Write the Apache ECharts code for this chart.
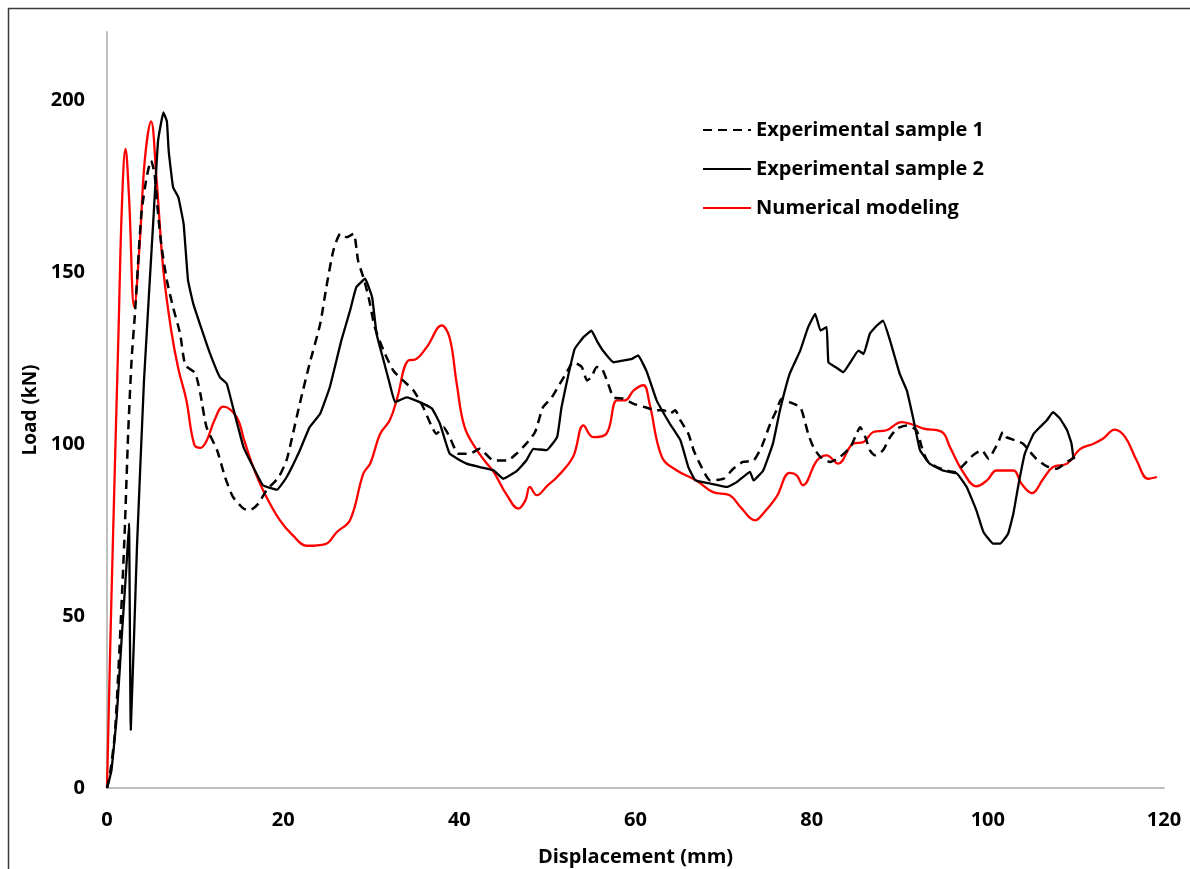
<!DOCTYPE html>
<html>
<head>
<meta charset="utf-8">
<script src="https://cdn.jsdelivr.net/npm/echarts@6/dist/echarts.min.js"></script>
<style>
html,body{margin:0;padding:0;background:#fff;}
#chart{width:1190px;height:869px;}
</style>
</head>
<body>
<div id="chart"></div>
<script>
// ---- Data ----
const seriesNames = ['Experimental sample 1', 'Experimental sample 2', 'Numerical modeling'];
const xTicks = [0, 20, 40, 60, 80, 100, 120];
const yTicks = [0, 50, 100, 150, 200];

const sample1X = [0,0.3,0.9,1.5,2.0,2.4,2.8,3.2,3.9,4.5,5.0,5.4,5.8,6.2,6.8,7.5,8.3,8.9,10.0,10.6,11.3,12.5,13.4,14.3,15.5,16.2,17.2,18.1,19.5,20.4,21.1,21.9,23.0,24.2,24.9,25.7,26.5,27.2,28.0,28.5,29.1,29.7,30.4,31.4,32.5,33.6,34.8,35.9,36.9,37.4,38.2,38.9,39.9,41.2,42.3,43.9,45.4,46.5,47.6,48.6,49.5,50.5,51.4,52.2,52.9,53.9,54.5,55.0,55.6,56.2,56.9,57.5,58.6,59.8,61.1,62.4,63.2,63.9,64.5,65.1,66.0,66.6,67.3,68.5,70.0,71.1,72.2,73.4,74.3,75.3,76.0,76.6,77.5,78.7,79.2,79.6,80.2,81.0,82.1,83.2,84.4,85.1,85.5,86.1,86.6,87.2,88.1,88.9,89.7,90.8,91.9,92.5,93.1,94.2,95.3,96.3,97.2,98.3,99.3,100.1,100.6,101.2,101.7,102.1,103.1,104.0,104.8,105.5,106.7,107.8,109.0,109.9];
const sample1Y = [0,3.3,15.9,45,74,103.1,125,139,167,177.7,182.6,178.7,167,157.4,147.7,139.9,132.2,123,120.8,114.7,105,98.3,90.5,84.7,81.3,80.8,82.8,86.6,90.5,95.5,103,112,123.5,135,145.7,156.4,161.3,160.3,161.3,153.5,148.6,142.8,134.1,127.3,121.5,118.6,115.7,110.8,105,103.1,105,102.1,97.3,97.3,98.7,95.3,95.3,97.3,100.2,103.6,110.8,113.7,117.6,121,123.9,122.5,118.6,119.6,122.5,122,117.6,113.7,113.3,111.8,110.8,109.9,109.9,108.9,109.9,107,103.1,98.3,94.4,89.5,90,92.9,94.9,95.3,99.2,106,109.9,113.3,112.3,110.8,107,103.1,99.2,96.3,94.9,96.3,99.2,103.1,105,102.1,98.3,96.8,98.3,102.1,104.6,105.5,104.1,99.2,95.3,93.4,92.4,91.9,93.9,96.8,98.3,95.8,97.8,100.7,103.6,102.1,101.2,100.2,97.8,95.8,93.6,92.9,94.9,96.3];

const sample2X = [0,0.5,1.1,1.7,2.2,2.5,2.7,3.4,4.2,5.3,5.8,6.4,6.8,7.0,7.5,8.1,8.7,9.2,9.8,10.8,11.7,12.8,13.6,14.3,15.5,16.6,17.7,19.3,20.4,21.9,23.0,24.2,25.3,26.6,27.6,28.3,29.3,30.1,30.6,31.4,32.1,32.7,34.0,35.5,36.9,37.8,38.9,40.8,42.3,43.9,45.0,46.5,47.6,48.4,49.9,51.1,51.6,52.4,53.1,54.1,55.0,55.6,56.3,57.5,58.6,59.6,60.3,61.3,62.4,63.9,65.1,66.0,66.8,68.5,70.4,71.5,73.0,73.4,74.5,75.6,76.4,77.5,78.7,79.6,80.4,81.0,81.7,81.9,82.7,83.6,84.4,85.3,85.9,86.6,87.4,88.1,88.9,90.0,90.8,91.5,92.3,93.4,94.9,96.5,97.6,98.7,99.5,100.6,101.4,102.3,102.9,103.5,104.2,105.2,105.9,106.7,107.4,108.2,109.0,109.5,109.7];
const sample2Y = [0,5,20.7,45,64.3,77,16.9,70,118.6,167,188.4,196.6,194,185.5,174.8,171.9,164.1,147.7,140.9,133.1,126.4,119.6,117.6,110.8,99.2,93.4,88.1,86.8,90.5,98.3,105,108.9,116.7,130.2,139,145.7,148.2,142.8,132.2,124.4,117.6,112.3,113.7,112.3,110.4,106,97.3,94.4,93.4,92.4,90,92.2,95.3,98.7,98.3,102.1,110.8,120.5,127.8,131.2,133.1,130.2,127.3,123.9,124.4,124.9,125.9,121,112.8,106,101.2,93.4,89.5,88.6,87.6,89,92,89.5,92.4,100.2,109.9,120.5,127.3,134.1,138,133.1,134.1,123.9,122.5,121,123.9,127.3,126.3,132.2,134.6,136,130.2,120.5,115.7,107.9,98.3,94.4,92.4,91.5,87.6,80.8,74.5,71.1,71.1,74,79.9,88.6,97.3,103.1,105,107,109.4,107.5,104.1,100.2,96.3];

const modelX = [0,0.5,1.3,1.7,2.1,2.5,3.1,3.7,4.3,5.0,5.6,6.4,7.3,8.1,9.0,9.9,10.6,11.3,12.2,13.2,14.7,15.6,16.6,17.9,19.6,21.1,22.7,24.8,26.1,27.6,29.1,29.9,31.0,32.1,32.9,34.2,35.0,36.3,38.0,38.9,39.7,40.6,42.0,43.1,43.9,45.4,46.7,47.5,48.0,48.8,50.0,51.1,52.9,54.1,55.2,56.7,57.9,58.8,59.8,60.9,61.6,63.0,64.7,66.9,68.8,70.7,71.9,73.6,74.5,76.0,77.5,78.3,79.0,80.6,81.7,83.0,84.7,85.9,87.0,88.5,90.2,91.2,92.7,94.8,95.7,97.2,98.7,99.9,101.0,102.9,103.8,105.0,106.3,107.4,109.0,110.5,112.0,113.1,114.4,115.6,116.9,118.2,119.2];
const modelY = [0,55,132,170,186,172,140,158,183,194,178,150.6,133,122,113,100,99,101,107,111,108,101,93.4,85.7,78,73.5,70.5,71,74.5,78,91.5,94.5,103,107,113,124.4,124.7,128.3,134.6,131,117.7,105,98.3,94.5,92,85.2,81.3,83.7,87.6,85.2,88,90.5,96.3,105.5,102.1,103.1,112.8,112.8,115.7,117.2,111.8,96.3,92.4,89.5,86.1,85.2,81.8,77.9,79.9,84.7,91.7,91,88.1,95.3,96.8,94.4,100.2,100.7,103.6,104.1,106.5,106,104.6,103.6,99.2,91.9,87.8,89.5,92.4,92.4,88.6,85.8,90,93.4,94.4,98.7,100.2,101.7,104.3,102.1,95.3,90,90.5];

function zip(xs, ys) { return xs.map((x, i) => [x, ys[i]]); }

const FONT = '"Open Sans", "Liberation Sans", sans-serif';
const chart = echarts.init(document.getElementById('chart'), null, { renderer: 'canvas' });

chart.setOption({
  backgroundColor: '#ffffff',
  animation: false,
  graphic: [{
    type: 'rect',
    shape: { x: 8.5, y: 8.5, width: 1300, height: 1000 },
    style: { fill: 'none', stroke: '#3a3a3a', lineWidth: 1.5 },
    silent: true, z: -1
  }],
  grid: { left: 107, right: 26, top: 32, bottom: 81, containLabel: false, outerBoundsMode: 'none' },
  legend: {
    orient: 'vertical',
    left: 697, top: 114,
    itemWidth: 48, itemHeight: 14, itemGap: 17,
    itemStyle: { opacity: 0 },
    textStyle: { fontFamily: FONT, fontWeight: 'bold', fontSize: 20, color: '#000', lineHeight: 22 },
    data: seriesNames
  },
  xAxis: {
    type: 'value', min: xTicks[0], max: xTicks[xTicks.length - 1], interval: 20,
    name: 'Displacement (mm)', nameLocation: 'middle', nameGap: 59,
    nameTextStyle: { fontFamily: FONT, fontWeight: 'bold', fontSize: 20, color: '#000' },
    axisLine: { show: true, lineStyle: { color: '#bfbfbf', width: 2 } },
    axisTick: { show: false },
    splitLine: { show: false },
    axisLabel: { margin: 22, fontFamily: FONT, fontWeight: 'bold', fontSize: 20, color: '#000' }
  },
  yAxis: {
    type: 'value', min: yTicks[0], max: 220, interval: 50,
    name: 'Load (kN)', nameLocation: 'middle', nameGap: 66, nameRotate: 90,
    nameTextStyle: { fontFamily: FONT, fontWeight: 'bold', fontSize: 19, color: '#000' },
    axisLine: { show: true, lineStyle: { color: '#bfbfbf', width: 2 } },
    axisTick: { show: false },
    splitLine: { show: false },
    axisLabel: {
      margin: 22, fontFamily: FONT, fontWeight: 'bold', fontSize: 20, color: '#000',
      showMaxLabel: false,
      formatter: v => (yTicks.indexOf(v) >= 0 ? String(v) : '')
    }
  },
  series: [
    {
      name: seriesNames[0], type: 'line', data: zip(sample1X, sample1Y),
      showSymbol: false, symbol: 'none', smooth: 0.2,
      lineStyle: { color: '#000', width: 2.5, type: [9, 6] },
      itemStyle: { color: '#000' }, z: 3
    },
    {
      name: seriesNames[1], type: 'line', data: zip(sample2X, sample2Y),
      showSymbol: false, symbol: 'none', smooth: 0.1,
      lineStyle: { color: '#000', width: 2.3 },
      itemStyle: { color: '#000' }, z: 4
    },
    {
      name: seriesNames[2], type: 'line', data: zip(modelX, modelY),
      showSymbol: false, symbol: 'none', smooth: 0.4,
      lineStyle: { color: '#ff0000', width: 2.3 },
      itemStyle: { color: '#ff0000' }, z: 2
    }
  ]
});
</script>
</body>
</html>
